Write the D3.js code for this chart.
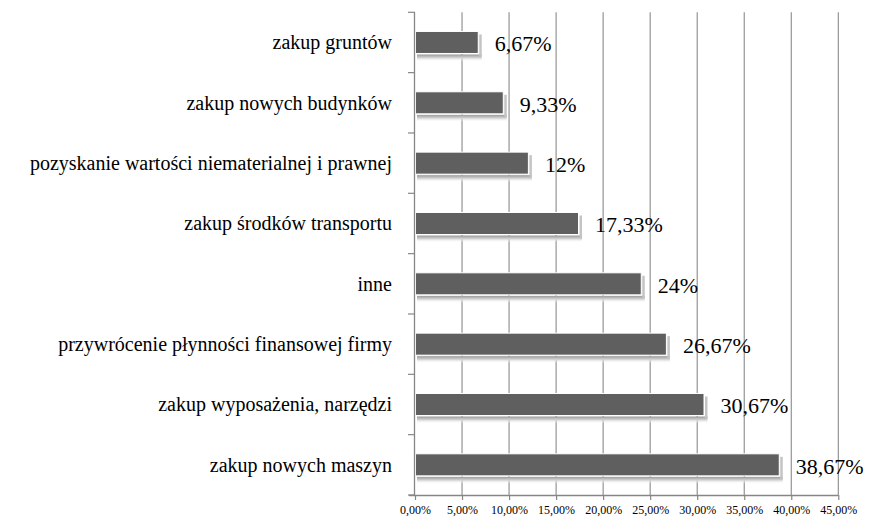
<!DOCTYPE html>
<html><head><meta charset="utf-8">
<script src="https://cdn.jsdelivr.net/npm/d3@7"></script>
<style>html,body{margin:0;padding:0;background:#fff;font-family:"Times New Roman",serif;}</style>
</head><body>
<svg id="chart" width="871" height="518"></svg>
<script>
const categories = [
  "zakup gruntów",
  "zakup nowych budynków",
  "pozyskanie wartości niematerialnej i prawnej",
  "zakup środków transportu",
  "inne",
  "przywrócenie płynności finansowej firmy",
  "zakup wyposażenia, narzędzi",
  "zakup nowych maszyn"
];
const values = [6.67, 9.33, 12, 17.33, 24, 26.67, 30.67, 38.67];
const valueLabels = ["6,67%", "9,33%", "12%", "17,33%", "24%", "26,67%", "30,67%", "38,67%"];
const tickValues = [0, 5, 10, 15, 20, 25, 30, 35, 40, 45];
const tickLabels = ["0,00%", "5,00%", "10,00%", "15,00%", "20,00%", "25,00%", "30,00%", "35,00%", "40,00%", "45,00%"];

const svg = d3.select("#chart");
const pLeft = 415, pRight = 838.3, pTop = 12.3, pBottom = 495;

const x = d3.scaleLinear().domain([0, 45]).range([pLeft, pRight]);
const y = d3.scaleBand().domain(categories).range([pTop, pBottom])
  .paddingInner(0.635).paddingOuter(0.3175);
const step = y.step();

const defs = svg.append("defs");
const g = defs.append("linearGradient").attr("id", "shg").attr("x1", 0).attr("y1", 0).attr("x2", 0).attr("y2", 1);
g.append("stop").attr("offset", "0%").attr("stop-color", "#9a9a9a");
g.append("stop").attr("offset", "45%").attr("stop-color", "#d0d0d0");
g.append("stop").attr("offset", "100%").attr("stop-color", "#ffffff").attr("stop-opacity", 0);

// gridlines
svg.append("g").selectAll("line").data(tickValues.slice(1)).join("line")
  .attr("x1", d => x(d)).attr("x2", d => x(d))
  .attr("y1", pTop).attr("y2", pBottom)
  .attr("stroke", "#8a8a8a").attr("stroke-width", 1.1);

// bar shadows
svg.append("g").selectAll("rect").data(values).join("rect")
  .attr("x", x(0) + 2)
  .attr("y", (d, i) => y(categories[i]) + y.bandwidth() + 1)
  .attr("width", d => x(d) - x(0) + 2)
  .attr("height", 7)
  .attr("fill", "url(#shg)");
svg.append("g").selectAll("rect").data(values).join("rect")
  .attr("x", d => x(d) + 1.5)
  .attr("y", (d, i) => y(categories[i]) + 3)
  .attr("width", 2.5)
  .attr("height", y.bandwidth())
  .attr("fill", "#c4c4c4");

// bars
svg.append("g").selectAll("rect").data(values).join("rect")
  .attr("x", x(0) + 0.5)
  .attr("y", (d, i) => y(categories[i]))
  .attr("width", d => x(d) - x(0))
  .attr("height", y.bandwidth())
  .attr("fill", "#5f5f5f")
  .attr("stroke", "#ffffff").attr("stroke-width", 1);

// x axis
const xAxis = d3.axisBottom(x).tickValues(tickValues).tickSize(5)
  .tickFormat((d, i) => tickLabels[i]);
const gx = svg.append("g").attr("transform", `translate(0,${pBottom})`).call(xAxis);
gx.attr("font-family", "Times New Roman").attr("font-size", 12);
gx.select(".domain").attr("stroke", "#868686").attr("stroke-width", 1.3).attr("d", `M${pLeft - 6},0.5H${pRight}`);
gx.selectAll(".tick line").attr("stroke", "#868686").attr("stroke-width", 1.2);
gx.selectAll(".tick text").attr("font-family", "Times New Roman").attr("font-size", 12).attr("fill", "#000").attr("dy", "0.95em");

// y axis line and boundary ticks
svg.append("line").attr("x1", pLeft - 0.5).attr("x2", pLeft - 0.5).attr("y1", pTop).attr("y2", pBottom)
  .attr("stroke", "#868686").attr("stroke-width", 1.3);
svg.append("g").selectAll("line").data(d3.range(categories.length + 1)).join("line")
  .attr("x1", pLeft - 7).attr("x2", pLeft)
  .attr("y1", i => pTop + i * step).attr("y2", i => pTop + i * step)
  .attr("stroke", "#868686").attr("stroke-width", 1.2);

// category labels
svg.selectAll("text.cat").data(categories).join("text").attr("class", "cat")
  .attr("x", 392).attr("y", d => y(d) + y.bandwidth() / 2 + 7)
  .attr("text-anchor", "end")
  .attr("font-family", "Times New Roman").attr("font-size", 20).attr("fill", "#000")
  .text(d => d);

// value labels
svg.selectAll("text.val").data(values).join("text").attr("class", "val")
  .attr("x", d => x(d) + 17)
  .attr("y", (d, i) => y(categories[i]) + y.bandwidth() / 2 + 9)
  .attr("font-family", "Times New Roman").attr("font-size", 22).attr("fill", "#000")
  .text((d, i) => valueLabels[i]);
</script>
</body></html>
